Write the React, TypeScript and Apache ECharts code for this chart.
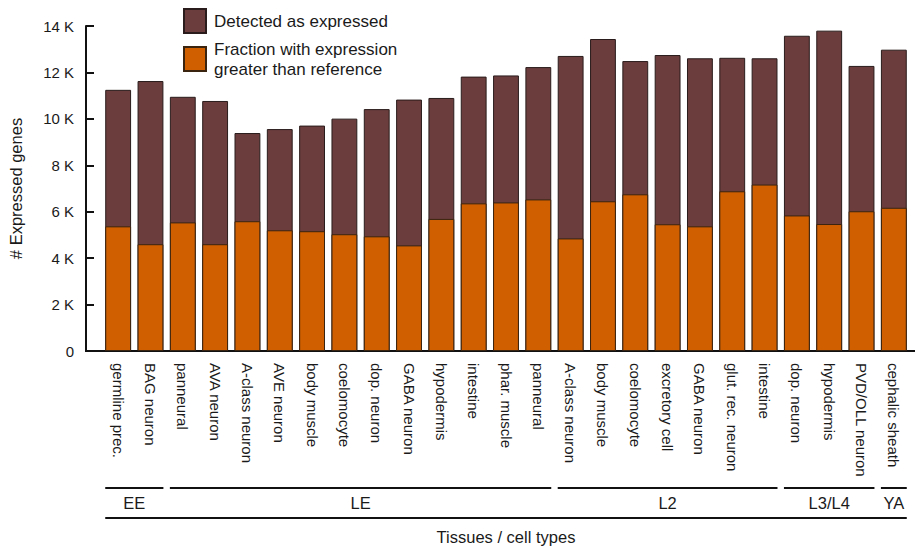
import React, { useEffect, useRef } from "react";
import * as echarts from "echarts";

const categories = [
  "germline prec.", "BAG neuron",
  "panneural", "AVA neuron", "A-class neuron", "AVE neuron", "body muscle", "coelomocyte",
  "dop. neuron", "GABA neuron", "hypodermis", "intestine", "phar. muscle", "panneural",
  "A-class neuron", "body muscle", "coelomocyte", "excretory cell", "GABA neuron", "glut. rec. neuron", "intestine",
  "dop. neuron", "hypodermis", "PVD/OLL neuron",
  "cephalic sheath",
];

const detected = [
  11250, 11630,
  10950, 10770, 9390, 9560, 9710, 10010, 10420, 10830, 10900, 11820, 11870, 12230,
  12710, 13440, 12490, 12750, 12610, 12630, 12610,
  13580, 13800, 12280,
  12980,
];

const fraction = [
  5370, 4600,
  5540, 4600, 5590, 5200, 5160, 5030, 4940, 4550, 5690, 6360, 6400, 6530,
  4850, 6450, 6750, 5460, 5370, 6880, 7170,
  5840, 5470, 6020,
  6170,
];

const groupNames = ["EE", "LE", "L2", "L3/L4", "YA"];
const groupSizes = [2, 12, 7, 3, 1];

const yTicks = [0, 2000, 4000, 6000, 8000, 10000, 12000, 14000];

const FONT = "'Liberation Sans', Arial, Helvetica, sans-serif";
const TEXT = "#1a1a1a";

export default function App() {
  const ref = useRef<HTMLDivElement>(null);
  useEffect(() => {
    if (!ref.current) return;
    const chart = echarts.init(ref.current, undefined, { renderer: "svg" });
    const option: any = {
      animation: false,
      textStyle: { fontFamily: FONT },
      legend: {
        orient: "vertical",
        left: 183,
        top: 8,
        padding: 0,
        icon: "rect",
        itemWidth: 22,
        itemHeight: 24,
        itemGap: 5,
        selectedMode: false,
        data: ["Detected as expressed", "Fraction with expression\ngreater than reference"],
        textStyle: { fontSize: 17, color: TEXT, lineHeight: 20, fontFamily: FONT, padding: [0, 0, 0, 3] },
      },
      grid: { left: 102, right: 6, top: 26, bottom: 197, containLabel: false, outerBoundsMode: "none" },
      xAxis: {
        type: "category",
        data: categories,
        axisLine: { show: false },
        axisTick: { show: false },
        axisLabel: {
          interval: 0,
          rotate: -90,
          margin: 12,
          fontSize: 15,
          color: TEXT,
          fontFamily: FONT,
        },
        name: "Tissues / cell types",
        nameLocation: "middle",
        nameGap: 177,
        nameTextStyle: { fontSize: 16.5, color: TEXT, fontFamily: FONT },
      },
      yAxis: {
        type: "value",
        min: 0,
        max: 14000,
        interval: 2000,
        offset: 16,
        axisLine: { show: true, lineStyle: { color: "#111", width: 2 } },
        axisTick: { show: true, inside: true, length: 8, lineStyle: { color: "#111", width: 2 } },
        splitLine: { show: false },
        axisLabel: {
          margin: 12,
          fontSize: 15,
          color: TEXT,
          fontFamily: FONT,
          formatter: (v: number) => (yTicks.includes(v) && v !== 0 ? v / 1000 + " K" : "0"),
        },
        name: "# Expressed genes",
        nameLocation: "middle",
        nameGap: 62,
        nameTextStyle: { fontSize: 16.5, color: TEXT, fontFamily: FONT },
      },
      series: [
        {
          name: "Detected as expressed",
          type: "bar",
          data: detected,
          barWidth: "80%",
          barGap: "-100%",
          itemStyle: { color: "#6b3d3d", borderColor: "#2a1c1c", borderWidth: 1 },
        },
        {
          name: "Fraction with expression\ngreater than reference",
          type: "bar",
          data: fraction,
          barWidth: "80%",
          barGap: "-100%",
          itemStyle: { color: "#d05f00", borderColor: "#3a2410", borderWidth: 1 },
        },
      ],
    };
    chart.setOption(option);

    const px = (i: number) => chart.convertToPixel({ xAxisIndex: 0 }, i) as number;
    const bw = px(1) - px(0);
    const half = bw * 0.4;
    const y0 = chart.convertToPixel({ yAxisIndex: 0 }, 0) as number;
    const axisX = 102 - 16;
    const elements: any[] = [
      {
        type: "line",
        shape: { x1: axisX - 1, y1: y0, x2: 915, y2: y0 },
        style: { stroke: "#111", lineWidth: 2 },
      },
    ];
    let start = 0;
    groupSizes.forEach((n, gi) => {
      const end = start + n - 1;
      const xl = px(start) - half;
      const xr = px(end) + half;
      elements.push({
        type: "line",
        shape: { x1: xl, y1: 488, x2: xr, y2: 488 },
        style: { stroke: "#111", lineWidth: 2 },
      });
      elements.push({
        type: "text",
        x: (xl + xr) / 2,
        y: 503,
        style: {
          text: groupNames[gi],
          fontSize: 16.5,
          fontFamily: FONT,
          fill: TEXT,
          align: "center",
          verticalAlign: "middle",
        },
      });
      start += n;
    });
    elements.push({
      type: "line",
      shape: { x1: px(0) - half, y1: 518, x2: px(categories.length - 1) + half, y2: 518 },
      style: { stroke: "#111", lineWidth: 2 },
    });
    chart.setOption({ graphic: { elements } });

    return () => chart.dispose();
  }, []);
  return (
    <div
      ref={ref}
      style={{ position: "fixed", left: 0, top: 0, width: 916, height: 548, background: "#fff" }}
    />
  );
}
